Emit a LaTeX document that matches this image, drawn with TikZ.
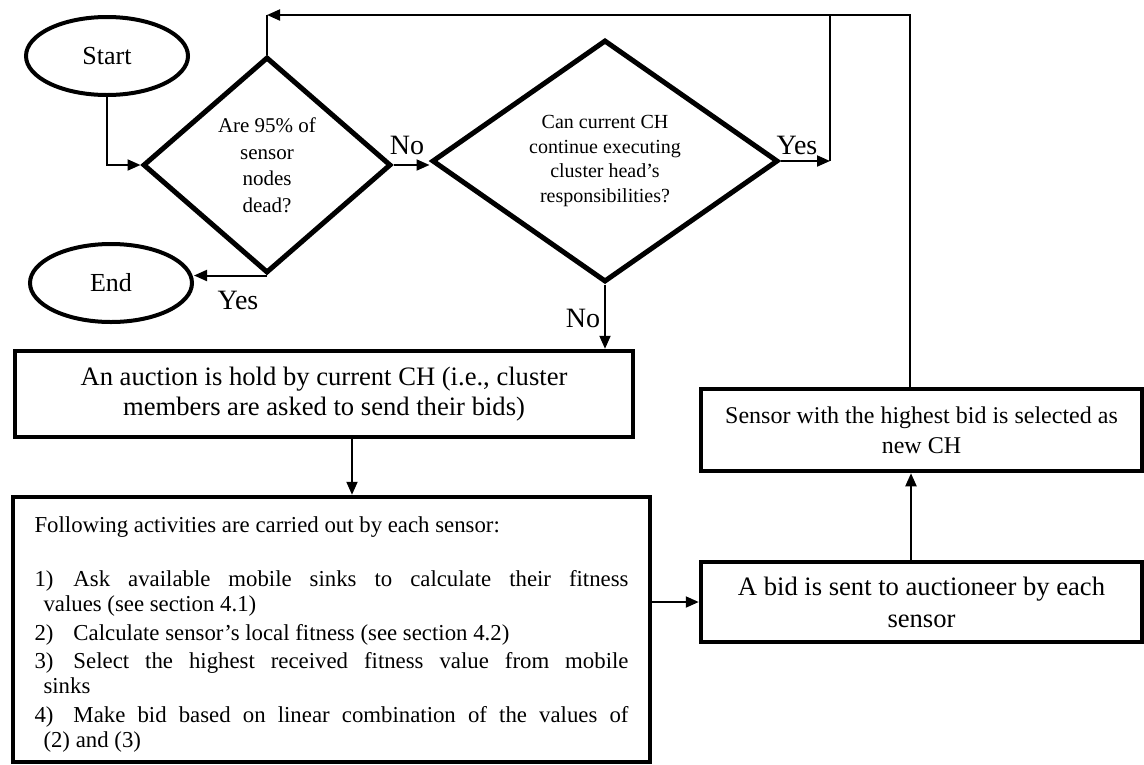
\documentclass[tikz,border=0pt]{standalone}
\usepackage{fontspec}
\setmainfont{Liberation Serif}
\usetikzlibrary{shapes.geometric,arrows.meta}
\newcommand\actitem[1]{\par\hangindent=9pt\hangafter=1\noindent\makebox[39pt][l]{#1}}
\begin{document}
\begin{tikzpicture}[x=1pt,y=-1pt,
  conn/.style={line width=2pt,-{Triangle[length=13pt,width=11pt]}},
  plain/.style={line width=2pt},
  term/.style={ellipse,draw,line width=4pt,minimum width=162pt,minimum height=78pt,inner sep=0pt,font=\fontsize{26}{30}\selectfont},
  dec/.style={diamond,draw,line width=5pt,inner sep=0pt,align=center},
  proc/.style={rectangle,draw,line width=4.5pt,inner sep=0pt,align=center},
  lab/.style={font=\fontsize{28}{32}\selectfont,inner sep=0pt}
]
\useasboundingbox (0,0) rectangle (1144,764);

% terminals
\node[term] (start) at (107,56) {Start};
\node[term] (end) at (111,283) {End};

% decisions
\node[dec,minimum width=248pt,minimum height=216pt,font=\fontsize{21}{26.5}\selectfont] (d1) at (267,165)
  {Are 95\% of\\sensor\\nodes\\dead?};
\node[dec,aspect=1.43,minimum width=346pt,minimum height=242pt,font=\fontsize{20}{24.7}\selectfont] (d2) at (605,161)
  {Can current CH\\continue executing\\cluster head’s\\responsibilities?};

% process boxes
\node[proc,minimum width=618pt,minimum height=86pt,font=\fontsize{26.6}{30}\selectfont] (auc) at (324,394)
  {An auction is hold by current CH (i.e., cluster\\members are asked to send their bids)};
\node[proc,minimum width=637pt,minimum height=265pt] (act) at (331.5,629.5)
  {\begin{minipage}{594pt}\fontsize{22.8}{25}\selectfont\setlength{\parindent}{0pt}\setlength{\parskip}{3.5pt}\emergencystretch=20pt
   \vspace*{10pt}
   Following activities are carried out by each sensor:\par
   \vspace{25.5pt}
   \actitem{1)}Ask available mobile sinks to calculate their fitness\linebreak values (see section 4.1)\par
   \actitem{2)}Calculate sensor’s local fitness (see section 4.2)\par
   \actitem{3)}Select the highest received fitness value from mobile\linebreak sinks\par
   \actitem{4)}Make bid based on linear combination of the values of\linebreak (2) and (3)\par
   \end{minipage}};
\node[proc,minimum width=441pt,minimum height=80pt,font=\fontsize{26.6}{32}\selectfont] (bid) at (921.5,602)
  {A bid is sent to auctioneer by each\\sensor};
\node[proc,minimum width=441pt,minimum height=82pt,font=\fontsize{24}{30}\selectfont] (sel) at (921.5,430)
  {Sensor with the highest bid is selected as\\new CH};

% labels
\node[lab] (no1) at (407,145) {No};
\node[lab] (yes2) at (797,145) {Yes};
\node[lab] (yes1) at (238,300) {Yes};
\node[lab] (no2) at (583,318) {No};

% helper coordinates
\coordinate (tl) at (267,15);
\coordinate (yc) at (830,161);
\coordinate (sx) at (910,0);
\coordinate (bx) at (911,0);
\coordinate (ax) at (352,0);

% connectors
\draw[conn] (start.south) |- (d1.west);
\draw[conn] (d1.south) -- (d1.south -| end.east);
\draw[conn] (d1.east) -- (d1.east -| d2.west);
\draw[conn] (d2.east) -- (yc);
\draw[plain] (yc) -- (yc |- tl);
\draw[plain] (d1.north) -- (tl);
\draw[conn] (sel.north -| sx) |- (tl);
\draw[conn] (d2.south) -- (d2.south |- auc.north);
\draw[conn] (auc.south -| ax) -- (act.north -| ax);
\draw[conn] (act.east |- bid.west) -- (bid.west);
\draw[conn] (bid.north -| bx) -- (sel.south -| bx);
\end{tikzpicture}
\end{document}
